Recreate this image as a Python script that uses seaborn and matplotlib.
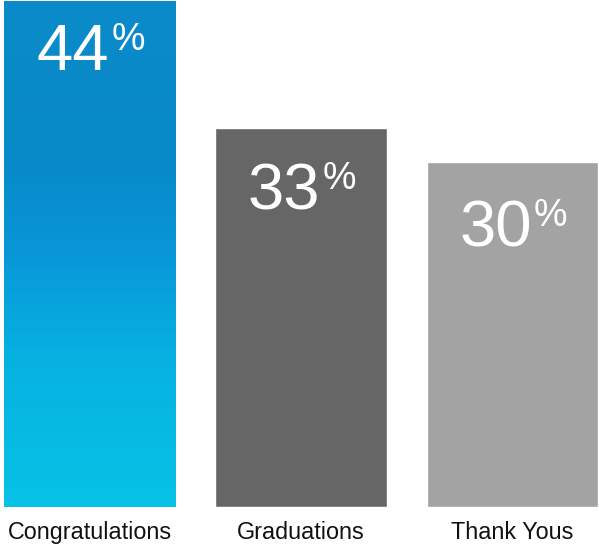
import numpy as np
import matplotlib
matplotlib.use("Agg")
import matplotlib.pyplot as plt
from matplotlib.colors import LinearSegmentedColormap
import seaborn as sns

# data
categories = ["Congratulations", "Graduations", "Thank Yous"]
values = [44, 33, 30]
bar_colors = ["#0996d9", "#666666", "#a3a3a3"]

sns.set_style("white")
plt.rcParams["font.family"] = ["Liberation Sans", "DejaVu Sans"]

fig = plt.figure(figsize=(5.99, 5.46), dpi=100)
ax = fig.add_axes([4 / 599, 39 / 546, 594 / 599, 506 / 546])

sns.barplot(x=categories, y=values, hue=categories, palette=bar_colors,
            width=0.81, saturation=1, legend=False, ax=ax)

sns.despine(ax=ax, left=True, bottom=True)
ax.set_yticks([])
ax.set_xlabel("")
ax.set_ylabel("")
ax.tick_params(axis="x", length=0, pad=10, labelsize=16.8, labelcolor="#111111")

# gradient fill on the first bar (dark blue at top -> cyan at bottom)
grad = LinearSegmentedColormap.from_list(
    "blue_grad",
    [(0.0, "#07c2e6"), (0.3, "#06b1e1"), (0.5, "#0996d9"),
     (0.7, "#0788c7"), (1.0, "#0b8bca")])
p = ax.patches[0]
x0, y0 = p.get_x(), p.get_y()
w, h = p.get_width(), p.get_height()
img = ax.imshow(np.linspace(0, 1, 256).reshape(-1, 1), cmap=grad,
                extent=[x0, x0 + w, y0, y0 + h], origin="lower",
                aspect="auto", zorder=p.get_zorder())
img.set_clip_path(p)
p.set_facecolor("none")
ax.set_xlim(-0.405, 2.405)
ax.set_ylim(0, max(values))

# value labels: big number + superscript percent
label_drop = [16, 25, 27]
for i, v in enumerate(values):
    ax.annotate(str(v), xy=(i, v), xytext=(14, -label_drop[i]),
                textcoords="offset points", ha="right", va="top",
                fontsize=47, color="white")
    ax.annotate("%", xy=(i, v), xytext=(15.5, -label_drop[i] + 1),
                textcoords="offset points", ha="left", va="top",
                fontsize=27, color="white")

fig.savefig("out.png", dpi=100)
